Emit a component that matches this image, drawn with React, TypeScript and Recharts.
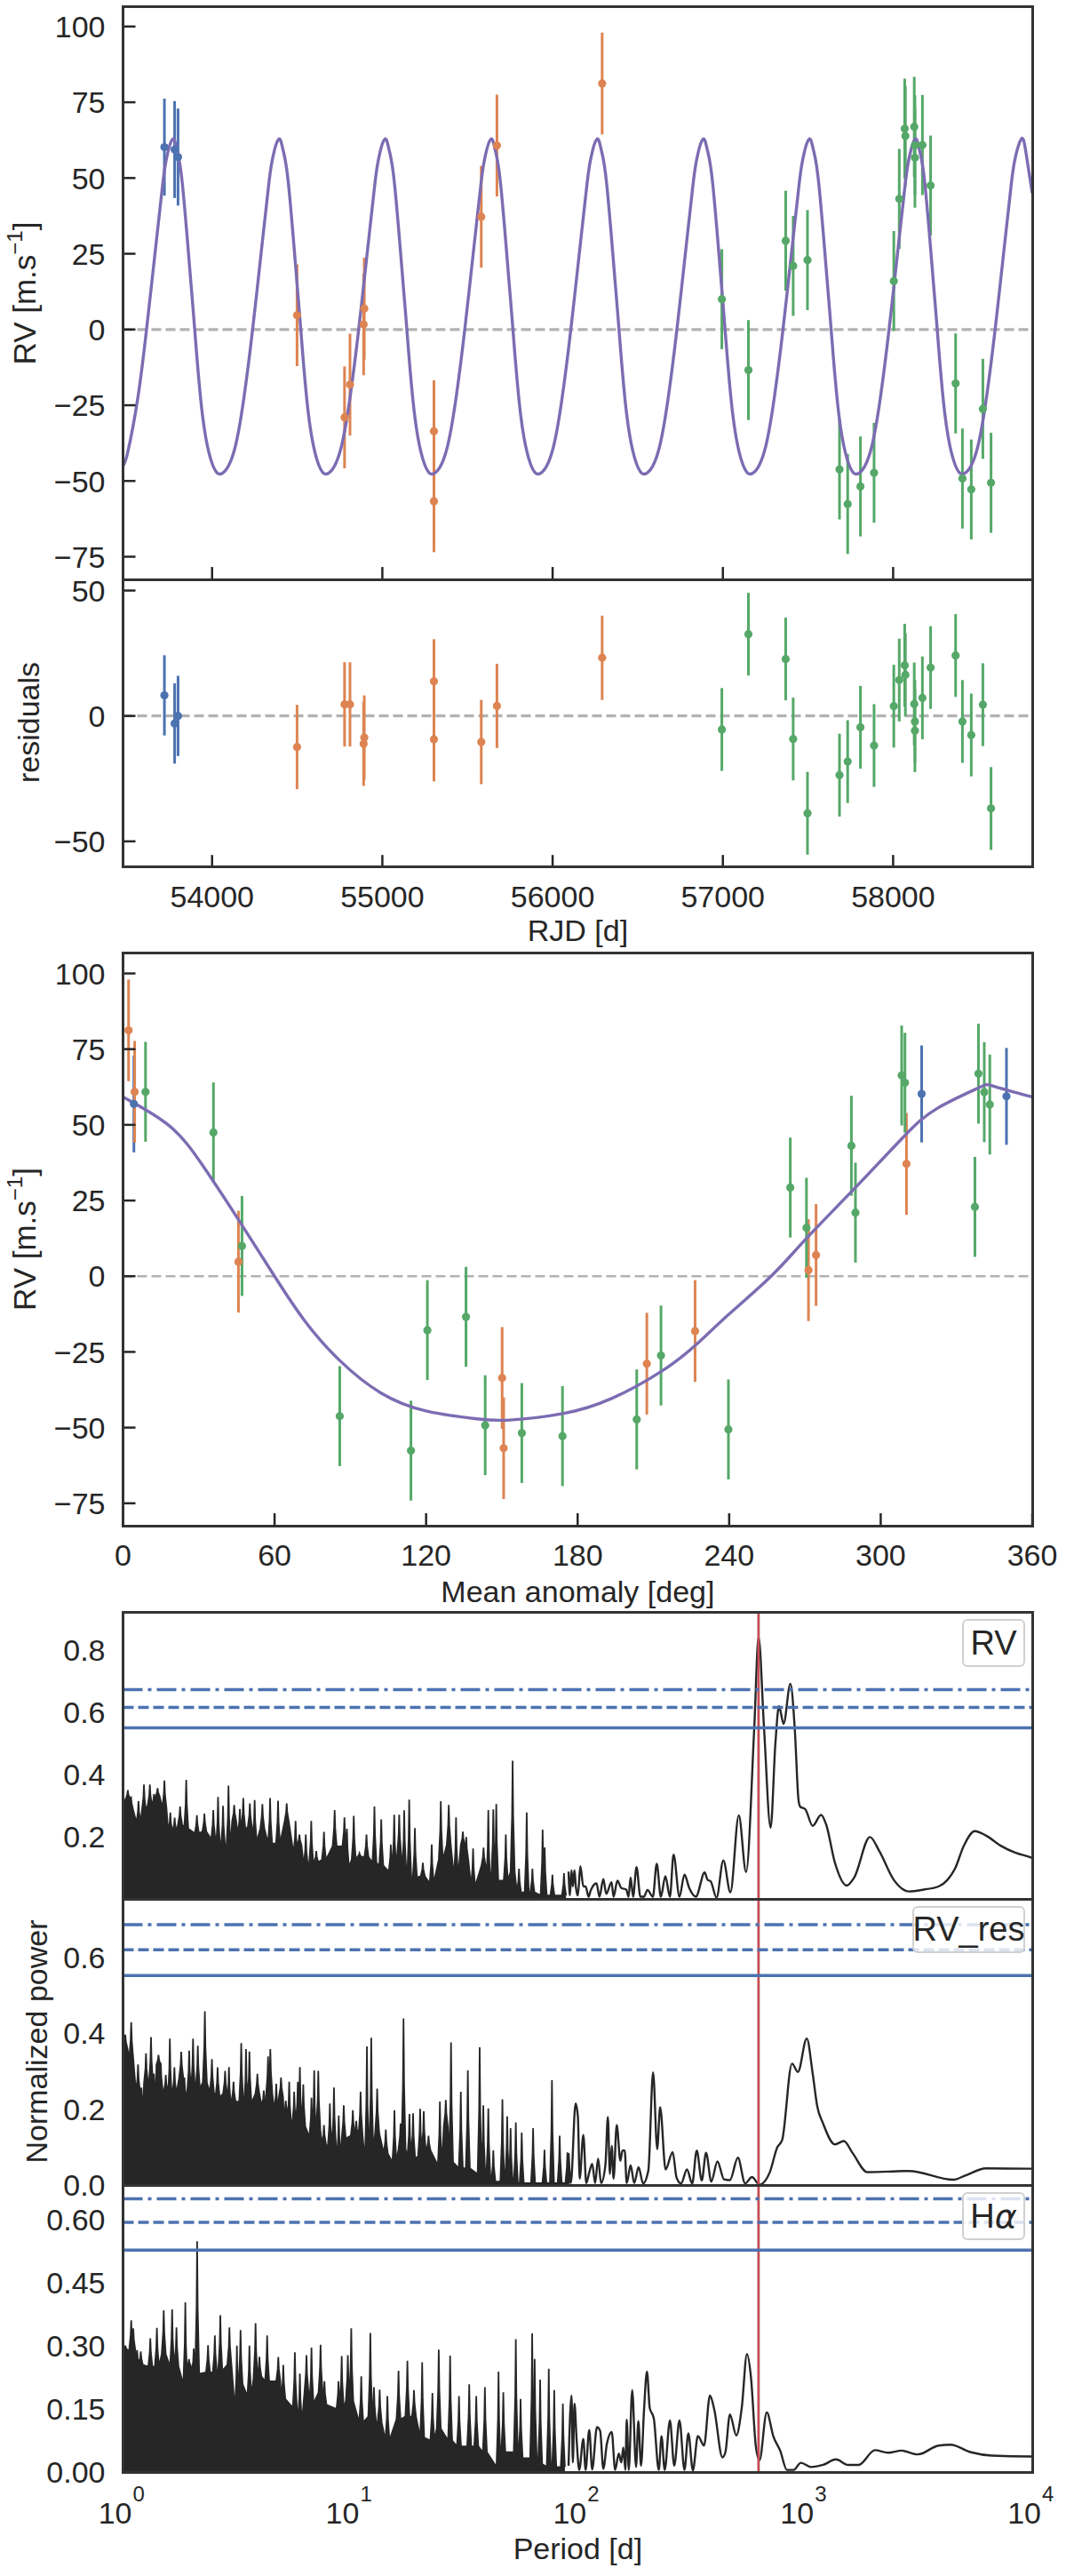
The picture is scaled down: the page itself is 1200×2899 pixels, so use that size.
import React from "react";
import {
  ComposedChart,
  Line,
  Area,
  Scatter,
  ErrorBar,
  XAxis,
  YAxis,
  ReferenceLine,
} from "recharts";

// radial velocities against time, per instrument
const blueT = [53720, 53780, 53800];
const blueRv = [60.2, 59.4, 56.9];
const blueRes = [8.2, -3, 0];
const blueErr = 16;

const orangeT = [54499, 54778, 54810, 54890, 54894, 55303, 55303, 55581, 55673, 56291];
const orangeRv = [4.7, -29, -18.2, 1.7, 6.9, -33.6, -56.7, 37.2, 60.7, 81.2];
const orangeRes = [-12.4, 4.6, 4.6, -11.1, -8.6, 13.8, -9.3, -10.4, 4, 23.2];
const orangeErr = 16.8;

const greenT = [
  56994, 57150, 57369, 57413, 57497, 57685, 57733, 57808, 57888, 58004, 58036, 58068, 58072, 58124,
  58128, 58128, 58172, 58220, 58367, 58407, 58459, 58527, 58575,
];
const greenRv = [
  10, -13.4, 29.3, 21, 22.9, -46.2, -57.6, -51.8, -47.3, 16, 43.1, 66.3, 63.9, 66.9, 56.7, 60.8,
  60.9, 47.5, -17.8, -49.2, -52.8, -26.2, -50.6,
];
const greenRes = [
  -5.4, 32.6, 22.7, -9.2, -38.8, -23.6, -18.2, -4.5, -11.8, 3.9, 14.3, 20.2, 16.4, 4.8, -2.2, -5.9,
  7.2, 19.3, 24.1, -2.2, -7.6, 4.5, -36.9,
];
const greenErr = 16.5;

// keplerian model
const orbitT = [
  53477, 53505, 53563, 53615, 53673, 53706, 53729,
  53768, 53794, 53826, 53875, 53898, 53943, 54002, 54059, 54128, 54186, 54238, 54296, 54329, 54352,
  54391, 54417, 54449, 54498, 54521, 54566, 54625, 54682, 54751, 54809, 54861, 54919, 54952, 54975,
  55014, 55040, 55072, 55121, 55144, 55189, 55248, 55305, 55374, 55432, 55484, 55542, 55575, 55598,
  55637, 55663, 55695, 55744, 55767, 55812, 55871, 55928, 55997, 56055, 56107, 56165, 56198, 56221,
  56260, 56286, 56318, 56367, 56390, 56435, 56494, 56551, 56620, 56678, 56730, 56788, 56821, 56844,
  56883, 56909, 56941, 56990, 57013, 57058, 57117, 57174, 57243, 57301, 57353, 57411, 57444, 57467,
  57506, 57532, 57564, 57613, 57636, 57681, 57740, 57797, 57866, 57924, 57976, 58034, 58067, 58090,
  58129, 58155, 58187, 58236, 58259, 58304, 58363, 58420, 58489, 58547, 58599, 58657, 58690, 58713,
  58752, 58778, 58817,
];
const orbitRv = [
  -45, -40.4, -22.9, 0, 29.3, 46, 55.5,
  62.8, 59.2, 47.8, 15.8, 0, -28, -44.5, -47.5, -40.4, -22.9, 0, 29.3, 46, 55.5,
  62.8, 59.2, 47.8, 15.8, 0, -28, -44.5, -47.5, -40.4, -22.9, 0, 29.3, 46, 55.5,
  62.8, 59.2, 47.8, 15.8, 0, -28, -44.5, -47.5, -40.4, -22.9, 0, 29.3, 46, 55.5,
  62.8, 59.2, 47.8, 15.8, 0, -28, -44.5, -47.5, -40.4, -22.9, 0, 29.3, 46, 55.5,
  62.8, 59.2, 47.8, 15.8, 0, -28, -44.5, -47.5, -40.4, -22.9, 0, 29.3, 46, 55.5,
  62.8, 59.2, 47.8, 15.8, 0, -28, -44.5, -47.5, -40.4, -22.9, 0, 29.3, 46, 55.5,
  62.8, 59.2, 47.8, 15.8, 0, -28, -44.5, -47.5, -40.4, -22.9, 0, 29.3, 46, 55.5,
  62.8, 59.2, 47.8, 15.8, 0, -28, -44.5, -47.5, -40.4, -22.9, 0, 29.3, 46, 55.5,
  62.8, 59.2, 45,
];

// phase folded panel
const blueDeg = [316.2, 349.8, 4.3];
const orangeDeg = [45.7, 207.4, 226.5, 274.4, 271.4, 150.1, 150.7, 310.2, 4.6, 2.2];
const orangeFoldRv = [4.8, -28.9, -18.1, 7, 2, -33.6, -56.8, 37.1, 60.9, 81.2];
const greenDeg = [
  47.1, 135.8, 264.2, 290, 337.3, 85.8, 114, 157.9, 203.4, 270.6, 288.4, 308.3, 309.6, 338.7, 343.2,
  341, 8.9, 35.8, 120.5, 143.4, 174, 213, 239.7,
];
const foldDeg = [
  0, 18.6, 32, 47, 60, 72, 86, 102, 120, 140, 153, 174, 193.4, 213, 226.5, 239.7, 256.6, 270.6, 290,
  309, 322.5, 338.7, 344.6, 360,
];
const foldRv = [
  59.2, 49.5, 36, 17, 0, -14.8, -28, -38.5, -44.5, -47.1, -47.5, -45.4, -40.4, -31.5, -22.9,
  -12.7, 0, 12.5, 29.3, 46, 55.5, 62.2, 62.8, 59.2,
];

// periodograms: narrow peaks of the dense part, as log10(period), top and floor of each
const rvSpikeLogP = [
  0.003, 0.021, 0.035, 0.068, 0.092, 0.118, 0.136, 0.152, 0.182, 0.208, 0.227, 0.251, 0.278, 0.325,
  0.358, 0.397, 0.418, 0.44, 0.464, 0.489, 0.514, 0.529, 0.558, 0.579, 0.613, 0.647, 0.682, 0.72,
  0.759, 0.776, 0.804, 0.828, 0.85, 0.884, 0.931, 0.974, 0.985, 1.015, 1.04, 1.071, 1.106, 1.136,
  1.178, 1.193, 1.215, 1.237, 1.259, 1.284, 1.319, 1.358, 1.398, 1.433, 1.465, 1.495, 1.51, 1.54,
  1.586, 1.607, 1.629, 1.642, 1.684, 1.714, 1.742, 1.776, 1.801, 1.846, 1.855, 1.889, 1.94,
];
const rvSpikeTop = [
  0.321, 0.35, 0.33, 0.314, 0.368, 0.368, 0.337, 0.356, 0.381, 0.278, 0.261, 0.297, 0.383, 0.269,
  0.274, 0.286, 0.328, 0.299, 0.364, 0.302, 0.289, 0.324, 0.307, 0.318, 0.305, 0.324, 0.316, 0.307,
  0.251, 0.207, 0.207, 0.251, 0.154, 0.216, 0.286, 0.262, 0.226, 0.267, 0.147, 0.207, 0.297, 0.256,
  0.175, 0.271, 0.271, 0.285, 0.319, 0.228, 0.116, 0.175, 0.314, 0.302, 0.262, 0.216, 0.199, 0.162,
  0.165, 0.286, 0.288, 0.305, 0.207, 0.444, 0.097, 0.278, 0.097, 0.223, 0.166, 0.078, 0.083,
];
const rvSpikeBase = [
  0.316, 0.321, 0.288, 0.245, 0.283, 0.302, 0.297, 0.33, 0.293, 0.216, 0.216, 0.24, 0.226, 0.211,
  0.216, 0.192, 0.164, 0.169, 0.164, 0.25, 0.207, 0.226, 0.231, 0.183, 0.226, 0.178, 0.178, 0.25,
  0.145, 0.173, 0.107, 0.116, 0.118, 0.126, 0.169, 0.169, 0.102, 0.126, 0.135, 0.135, 0.116, 0.107,
  0.088, 0.097, 0.14, 0.088, 0.069, 0.069, 0.073, 0.05, 0.126, 0.173, 0.069, 0.173, 0.126, 0.04,
  0.107, 0.04, 0.069, 0.059, 0.059, 0.087, 0.021, 0.021, 0.021, 0.011, 0.011, 0.011, 0.011,
];
const rvTailLogP = [
  1.96, 1.966, 1.973, 1.979, 1.986, 1.992, 2.001, 2.012, 2.025, 2.035, 2.048, 2.057, 2.083, 2.096,
  2.113, 2.126, 2.149, 2.158, 2.175, 2.192, 2.214, 2.224, 2.233, 2.244, 2.259, 2.276, 2.292, 2.307,
  2.331, 2.348, 2.366, 2.386, 2.406, 2.422, 2.448, 2.47, 2.491, 2.52, 2.559, 2.572, 2.585, 2.611,
  2.641, 2.672, 2.709, 2.741, 2.777, 2.796, 2.82, 2.849, 2.87, 2.886, 2.906, 2.936, 2.955, 2.972,
  2.979, 3.002, 3.034, 3.071, 3.093, 3.132, 3.184, 3.217, 3.286, 3.327, 3.393, 3.458, 3.523, 3.588,
  3.627, 3.66, 3.699, 3.747, 3.796, 3.861, 3.927, 3.989, 4,
];
const rvTailPower = [
  0.088, 0.011, 0.092, 0.04, 0.092, 0.04, 0.011, 0.105, 0.04, 0.04, 0.007, 0.026, 0.05, 0.007,
  0.064, 0.016, 0.054, 0.007, 0.059, 0.035, 0.03, 0.007, 0.069, 0.007, 0.102, 0.007, 0.007, 0.029,
  0.007, 0.113, 0.007, 0.073, 0.007, 0.142, 0.007, 0.078, 0.035, 0.007, 0.085, 0.061, 0.057, 0.004,
  0.124, 0.021, 0.269, 0.086, 0.55, 0.842, 0.55, 0.229, 0.5, 0.62, 0.563, 0.692, 0.55, 0.316,
  0.297, 0.288, 0.235, 0.27, 0.24, 0.116, 0.043, 0.069, 0.199, 0.154, 0.059, 0.024, 0.03, 0.04,
  0.061, 0.097, 0.171, 0.218, 0.204, 0.171, 0.148, 0.135, 0.132,
];

const resSpikeLogP = [
  0.002, 0.01, 0.036, 0.066, 0.081, 0.101, 0.123, 0.136, 0.156, 0.166, 0.188, 0.206, 0.226, 0.256,
  0.27, 0.291, 0.308, 0.329, 0.36, 0.391, 0.416, 0.449, 0.466, 0.486, 0.52, 0.541, 0.556, 0.591,
  0.619, 0.638, 0.648, 0.674, 0.695, 0.716, 0.731, 0.753, 0.769, 0.778, 0.793, 0.829, 0.841, 0.859,
  0.884, 0.91, 0.928, 0.949, 0.971, 1.011, 1.026, 1.045, 1.073, 1.092, 1.118, 1.156, 1.194, 1.221,
  1.234, 1.26, 1.276, 1.307, 1.323, 1.344, 1.394, 1.42, 1.443, 1.486, 1.517, 1.569, 1.585, 1.607,
  1.629, 1.669, 1.69, 1.705, 1.728, 1.754, 1.804, 1.854, 1.887, 1.921, 1.955,
];
const resSpikeTop = [
  0.4, 0.396, 0.429, 0.318, 0.257, 0.347, 0.39, 0.294, 0.343, 0.322, 0.29, 0.386, 0.31, 0.351,
  0.283, 0.354, 0.386, 0.367, 0.458, 0.332, 0.31, 0.301, 0.311, 0.272, 0.374, 0.358, 0.352, 0.293,
  0.249, 0.339, 0.358, 0.267, 0.283, 0.222, 0.272, 0.246, 0.272, 0.311, 0.265, 0.23, 0.302, 0.301,
  0.158, 0.215, 0.257, 0.183, 0.21, 0.197, 0.169, 0.246, 0.365, 0.388, 0.254, 0.146, 0.197, 0.162,
  0.439, 0.187, 0.189, 0.201, 0.194, 0.13, 0.22, 0.224, 0.376, 0.246, 0.302, 0.363, 0.21, 0.202,
  0.091, 0.226, 0.181, 0.15, 0.165, 0.138, 0.15, 0.093, 0.276, 0.13, 0.086,
];
const resSpikeBase = [
  0.36, 0.361, 0.333, 0.244, 0.212, 0.267, 0.267, 0.25, 0.317, 0.246, 0.244, 0.224, 0.239, 0.283,
  0.224, 0.244, 0.247, 0.255, 0.27, 0.244, 0.232, 0.24, 0.201, 0.22, 0.22, 0.197, 0.216, 0.24,
  0.207, 0.235, 0.24, 0.197, 0.232, 0.188, 0.158, 0.158, 0.161, 0.158, 0.154, 0.127, 0.119, 0.146,
  0.107, 0.1, 0.1, 0.068, 0.123, 0.13, 0.13, 0.13, 0.064, 0.091, 0.137, 0.083, 0.06, 0.095,
  0.095, 0.072, 0.072, 0.075, 0.091, 0.091, 0.052, 0.154, 0.06, 0.044, 0.044, 0.029, 0.021, 0.021,
  0.009, 0.009, 0.009, 0.005, 0.005, 0.005, 0.005, 0.005, 0.005, 0.005, 0.005,
];
const resTailLogP = [
  1.96, 1.97, 1.991, 2.001, 2.009, 2.025, 2.038, 2.051, 2.064, 2.077, 2.09, 2.103, 2.122, 2.133,
  2.142, 2.15, 2.158, 2.172, 2.188, 2.197, 2.207, 2.216, 2.233, 2.249, 2.268, 2.288, 2.311, 2.332,
  2.35, 2.363, 2.387, 2.418, 2.435, 2.455, 2.481, 2.504, 2.524, 2.546, 2.565, 2.588, 2.615, 2.644,
  2.67, 2.705, 2.737, 2.767, 2.8, 2.845, 2.878, 2.9, 2.943, 2.969, 3.008, 3.034, 3.054, 3.08,
  3.132, 3.171, 3.21, 3.275, 3.458, 3.653, 3.705, 3.796, 3.989, 4,
];
const resTailPower = [
  0.084, 0.005, 0.215, 0.181, 0.017, 0.132, 0.005, 0.033, 0.056, 0.005, 0.07, 0.005, 0.052, 0.179,
  0.029, 0.103, 0.017, 0.158, 0.064, 0.091, 0.091, 0.005, 0.052, 0.005, 0.047, 0.004, 0.038, 0.297,
  0.095, 0.205, 0.041, 0.087, 0.02, 0.004, 0.041, 0.004, 0.091, 0.012, 0.085, 0.009, 0.062, 0.015,
  0.013, 0.072, 0.004, 0.021, 0.001, 0.033, 0.099, 0.119, 0.32, 0.298, 0.386, 0.294, 0.208, 0.162,
  0.107, 0.116, 0.084, 0.034, 0.037, 0.014, 0.025, 0.044, 0.043, 0.043,
];

const haSpikeLogP = [
  0.01, 0.036, 0.045, 0.062, 0.078, 0.12, 0.149, 0.179, 0.216, 0.235, 0.274, 0.29, 0.311, 0.326,
  0.374, 0.404, 0.428, 0.468, 0.501, 0.517, 0.556, 0.583, 0.6, 0.634, 0.683, 0.705, 0.756, 0.778,
  0.807, 0.829, 0.869, 0.886, 0.948, 0.962, 0.989, 1.004, 1.048, 1.088, 1.104, 1.129, 1.163, 1.212,
  1.251, 1.28, 1.316, 1.361, 1.389, 1.439, 1.478, 1.523, 1.554, 1.592, 1.652, 1.673, 1.728, 1.749,
  1.8, 1.811, 1.835, 1.873, 1.897, 1.935,
];
const haSpikeTop = [
  0.301, 0.361, 0.342, 0.29, 0.287, 0.318, 0.343, 0.385, 0.387, 0.344, 0.404, 0.269, 0.294, 0.549,
  0.302, 0.325, 0.373, 0.344, 0.301, 0.338, 0.301, 0.354, 0.274, 0.325, 0.274, 0.255, 0.285, 0.234,
  0.278, 0.296, 0.303, 0.216, 0.216, 0.276, 0.278, 0.342, 0.228, 0.331, 0.202, 0.196, 0.181, 0.241,
  0.265, 0.195, 0.261, 0.188, 0.291, 0.277, 0.181, 0.209, 0.181, 0.202, 0.239, 0.19, 0.316, 0.174,
  0.33, 0.269, 0.22, 0.246, 0.195, 0.163,
];
const haSpikeBase = [
  0.29, 0.29, 0.29, 0.255, 0.255, 0.251, 0.251, 0.28, 0.251, 0.251, 0.209, 0.251, 0.234, 0.234,
  0.237, 0.237, 0.241, 0.255, 0.149, 0.209, 0.18, 0.223, 0.227, 0.216, 0.216, 0.174, 0.153, 0.118,
  0.189, 0.163, 0.189, 0.16, 0.15, 0.153, 0.168, 0.168, 0.118, 0.132, 0.118, 0.118, 0.075, 0.125,
  0.132, 0.132, 0.082, 0.075, 0.103, 0.075, 0.061, 0.061, 0.061, 0.047, 0.012, 0.047, 0.047, 0.033,
  0.033, 0.033, 0.019, 0.012, 0.012, 0.012,
];
const haTailLogP = [
  1.96, 1.973, 1.979, 1.986, 1.996, 2.007, 2.025, 2.035, 2.051, 2.064, 2.085, 2.099, 2.113, 2.129,
  2.15, 2.165, 2.181, 2.192, 2.201, 2.21, 2.216, 2.225, 2.24, 2.257, 2.267, 2.279, 2.292, 2.305,
  2.317, 2.335, 2.357, 2.369, 2.383, 2.406, 2.425, 2.448, 2.47, 2.487, 2.507, 2.529, 2.556, 2.582,
  2.601, 2.637, 2.65, 2.67, 2.698, 2.722, 2.745, 2.763, 2.784, 2.8, 2.832, 2.861, 2.891, 2.921,
  2.95, 2.982, 3.028, 3.08, 3.136, 3.191, 3.236, 3.308, 3.366, 3.425, 3.497, 3.588, 3.64, 3.731,
  3.822, 3.989, 4,
];
const haTailPower = [
  0.015, 0.182, 0.023, 0.163, 0.072, 0.005, 0.079, 0.005, 0.1, 0.006, 0.107, 0.098, 0.008, 0.068,
  0.095, 0.005, 0.044, 0.023, 0.058, 0.005, 0.125, 0.005, 0.195, 0.012, 0.121, 0.015, 0.147, 0.239,
  0.153, 0.128, 0.005, 0.085, 0.005, 0.123, 0.015, 0.123, 0.005, 0.092, 0.004, 0.086, 0.063, 0.182,
  0.149, 0.035, 0.047, 0.137, 0.087, 0.153, 0.281, 0.223, 0.061, 0.028, 0.142, 0.085, 0.051, 0.005,
  0.005, 0.022, 0.012, 0.017, 0.03, 0.017, 0.017, 0.052, 0.046, 0.051, 0.042, 0.063, 0.065, 0.047,
  0.039, 0.037, 0.037,
];

const rvLevels = [0.55, 0.616, 0.673];
const resLevels = [0.552, 0.62, 0.686];
const haLevels = [0.528, 0.594, 0.65];
const planetPeriod = 625;

const timeTicks = [54000, 55000, 56000, 57000, 58000];
const rvTicks = [-75, -50, -25, 0, 25, 50, 75, 100];
const resTicks = [-50, 0, 50];
const degTicks = [0, 60, 120, 180, 240, 300, 360];
const periodTicks = [1, 10, 100, 1000, 10000];

const INK = "#262626";
const BLUE = "#4c72b0";
const ORANGE = "#dd8452";
const GREEN = "#55a868";
const PURPLE = "#7c6cb2";
const RED = "#c44e52";
const GREY = "#b2b2b2";
const FONT = "'Liberation Sans', Arial, sans-serif";

const PLOT_LEFT = 138.5;
const PLOT_RIGHT = 1162;
const PAD_TOP = 8;
const PAD_BOTTOM = 70;

const points = (xs: number[], ys: number[], err: number) =>
  xs.map((x, i) => ({ x, y: ys[i], err }));
const curve = (xs: number[], ys: number[]) => xs.map((x, i) => ({ x, y: ys[i] }));

// the peaks taper: floor, shoulder halfway up, top, shoulder, floor
const periodogram = (
  spikeLogP: number[],
  spikeTop: number[],
  spikeBase: number[],
  tailLogP: number[],
  tailPower: number[]
) => {
  const rows: any[] = [{ x: 1, spike: spikeBase[0] }];
  spikeLogP.forEach((lp, i) => {
    const shoulder = (spikeBase[i] + spikeTop[i]) / 2;
    rows.push({ x: 10 ** Math.max(lp - 0.009, 0), spike: spikeBase[i] });
    rows.push({ x: 10 ** Math.max(lp - 0.0025, 0), spike: shoulder });
    rows.push({ x: 10 ** lp, spike: spikeTop[i] });
    rows.push({ x: 10 ** (lp + 0.0025), spike: shoulder });
    rows.push({ x: 10 ** (lp + 0.009), spike: spikeBase[i] });
  });
  tailLogP.forEach((lp, i) => rows.push({ x: 10 ** lp, tail: tailPower[i] }));
  return rows;
};

const dot = (color: string) => (p: any) => <circle cx={p.cx} cy={p.cy} r={4.6} fill={color} />;

const instrument = (data: any[], color: string) => (
  <Scatter data={data} dataKey="y" shape={dot(color)} isAnimationActive={false}>
    <ErrorBar dataKey="err" direction="y" width={0} stroke={color} strokeWidth={3} isAnimationActive={false} />
  </Scatter>
);

const zeroLine = <ReferenceLine y={0} stroke={GREY} strokeWidth={3.2} strokeDasharray="11 5" />;

function yTick(digits: number, showLine: boolean) {
  return (p: any) => {
    const v = p.payload.value;
    const label = v.toFixed(digits).replace("-", "\u2212");
    return (
      <g>
        {showLine && <line x1={p.x} x2={p.x + 14} y1={p.y} y2={p.y} stroke={INK} strokeWidth={2.5} />}
        <text x={p.x - 20} y={p.y} dy="0.36em" textAnchor="end" fontFamily={FONT} fontSize={34} fill={INK}>
          {label}
        </text>
      </g>
    );
  };
}

function xTick(showText: boolean, showLine: boolean) {
  return (p: any) => (
    <g>
      {showLine && <line x1={p.x} x2={p.x} y1={p.y} y2={p.y - 14} stroke={INK} strokeWidth={2.5} />}
      {showText && (
        <text x={p.x} y={p.y + 45} textAnchor="middle" fontFamily={FONT} fontSize={34} fill={INK}>
          {p.payload.value}
        </text>
      )}
    </g>
  );
}

function powerTick(p: any) {
  const exp = Math.round(Math.log10(p.payload.value));
  return (
    <g fontFamily={FONT} fill={INK}>
      <text x={p.x + 10} y={p.y + 58} textAnchor="end" fontSize={34}>
        10
      </text>
      <text x={p.x + 11} y={p.y + 33} fontSize={24}>
        {exp}
      </text>
    </g>
  );
}

type PanelProps = {
  y0: number;
  y1: number;
  yDomain: number[];
  yTicks: number[];
  digits: number;
  tickLines: boolean;
  xDomain: number[];
  xTicks: number[];
  xScale?: any;
  xTickFn: any;
  data: any[];
  children: React.ReactNode;
};

function Panel({ y0, y1, yDomain, yTicks, digits, tickLines, xDomain, xTicks, xScale, xTickFn, data, children }: PanelProps) {
  return (
    <>
      <div style={{ position: "absolute", left: 0, top: y0 - PAD_TOP }}>
        <ComposedChart
          width={1200}
          height={y1 - y0 + PAD_TOP + PAD_BOTTOM}
          data={data}
          margin={{ left: 0, right: 1200 - PLOT_RIGHT, top: PAD_TOP, bottom: 0 }}
        >
          <XAxis
            dataKey="x"
            type="number"
            scale={xScale || "linear"}
            domain={xDomain}
            ticks={xTicks}
            interval={0}
            allowDataOverflow
            axisLine={false}
            tickLine={false}
            tickSize={0}
            tickMargin={0}
            height={PAD_BOTTOM}
            tick={xTickFn}
          />
          <YAxis
            type="number"
            domain={yDomain}
            ticks={yTicks}
            interval={0}
            allowDataOverflow
            axisLine={false}
            tickLine={false}
            tickSize={0}
            tickMargin={0}
            width={PLOT_LEFT}
            tick={yTick(digits, tickLines)}
          />
          {children}
        </ComposedChart>
      </div>
      <div
        style={{
          position: "absolute",
          boxSizing: "border-box",
          left: PLOT_LEFT - 1.5,
          top: y0 - 1.5,
          width: PLOT_RIGHT - PLOT_LEFT + 3,
          height: y1 - y0 + 3,
          border: `3px solid #333`,
          pointerEvents: "none",
        }}
      />
    </>
  );
}

const levelLines = (levels: number[]) => [
  <ReferenceLine key="a" y={levels[0]} stroke={BLUE} strokeWidth={3.5} />,
  <ReferenceLine key="b" y={levels[1]} stroke={BLUE} strokeWidth={3.5} strokeDasharray="12 5" />,
  <ReferenceLine key="c" y={levels[2]} stroke={BLUE} strokeWidth={3.5} strokeDasharray="22 6 4 6" />,
];

const powerSeries = [
  <Area key="s" dataKey="spike" type="linear" stroke={INK} strokeWidth={1.8} fill={INK} fillOpacity={1} dot={false} activeDot={false} isAnimationActive={false} />,
  <Line key="t" dataKey="tail" type="monotoneX" stroke={INK} strokeWidth={2.4} dot={false} activeDot={false} isAnimationActive={false} />,
  <ReferenceLine key="p" x={planetPeriod} stroke={RED} strokeWidth={2.8} />,
];

function LegendBox({ x, y, w, h, children }: any) {
  return (
    <div
      style={{
        position: "absolute",
        left: x,
        top: y,
        width: w,
        height: h,
        boxSizing: "border-box",
        background: "rgba(255,255,255,0.8)",
        border: "2px solid #d0d0d0",
        borderRadius: 6,
        display: "flex",
        alignItems: "center",
        justifyContent: "center",
        fontFamily: FONT,
        fontSize: 38,
        color: INK,
      }}
    >
      {children}
    </div>
  );
}

const labelStyle = { fontFamily: FONT, fontSize: 34, fill: INK } as const;

function RvLabel({ x, y }: { x: number; y: number }) {
  return (
    <text x={x} y={y} transform={`rotate(-90 ${x} ${y})`} textAnchor="middle" dominantBaseline="middle" {...labelStyle} fontSize={35}>
      RV [m.s
      <tspan dy={-12} fontSize={24}>
        {"\u22121"}
      </tspan>
      <tspan dy={12}>]</tspan>
    </text>
  );
}

function SideLabel({ x, y, children }: any) {
  return (
    <text x={x} y={y} transform={`rotate(-90 ${x} ${y})`} textAnchor="middle" dominantBaseline="middle" {...labelStyle}>
      {children}
    </text>
  );
}

export default function App() {
  const orbit = curve(orbitT, orbitRv);
  const fold = curve(foldDeg, foldRv);
  const rvPower = periodogram(rvSpikeLogP, rvSpikeTop, rvSpikeBase, rvTailLogP, rvTailPower);
  const resPower = periodogram(resSpikeLogP, resSpikeTop, resSpikeBase, resTailLogP, resTailPower);
  const haPower = periodogram(haSpikeLogP, haSpikeTop, haSpikeBase, haTailLogP, haTailPower);

  return (
    <div style={{ position: "absolute", left: 0, top: 0, width: 1200, height: 2899, background: "#fff" }}>
      <Panel
        y0={7.4}
        y1={652.5}
        yDomain={[-82.5, 106.7]}
        yTicks={rvTicks}
        digits={0}
        tickLines
        xDomain={[53477, 58817]}
        xTicks={timeTicks}
        xTickFn={xTick(false, true)}
        data={orbit}
      >
        {zeroLine}
        {instrument(points(blueT, blueRv, blueErr), BLUE)}
        {instrument(points(orangeT, orangeRv, orangeErr), ORANGE)}
        {instrument(points(greenT, greenRv, greenErr), GREEN)}
        <Line dataKey="y" type="natural" stroke={PURPLE} strokeWidth={3.4} dot={false} activeDot={false} isAnimationActive={false} />
      </Panel>

      <Panel
        y0={652.5}
        y1={975.7}
        yDomain={[-60.4, 54.1]}
        yTicks={resTicks}
        digits={0}
        tickLines
        xDomain={[53477, 58817]}
        xTicks={timeTicks}
        xTickFn={xTick(true, true)}
        data={[]}
      >
        {zeroLine}
        {instrument(points(blueT, blueRes, blueErr), BLUE)}
        {instrument(points(orangeT, orangeRes, orangeErr), ORANGE)}
        {instrument(points(greenT, greenRes, greenErr), GREEN)}
      </Panel>

      <Panel
        y0={1072}
        y1={1717}
        yDomain={[-82.4, 106.9]}
        yTicks={rvTicks}
        digits={0}
        tickLines
        xDomain={[0, 360]}
        xTicks={degTicks}
        xTickFn={xTick(true, true)}
        data={fold}
      >
        <ReferenceLine y={0} stroke={GREY} strokeWidth={2.5} strokeDasharray="11 5" />
        {instrument(points(blueDeg, blueRv, blueErr), BLUE)}
        {instrument(points(orangeDeg, orangeFoldRv, orangeErr), ORANGE)}
        {instrument(points(greenDeg, greenRv, greenErr), GREEN)}
        <Line dataKey="y" type="natural" stroke={PURPLE} strokeWidth={3.4} dot={false} activeDot={false} isAnimationActive={false} />
      </Panel>

      <Panel
        y0={1814}
        y1={2137}
        yDomain={[0, 0.923]}
        yTicks={[0.2, 0.4, 0.6, 0.8]}
        digits={1}
        tickLines={false}
        xDomain={[1, 10000]}
        xTicks={periodTicks}
        xScale="log"
        xTickFn={xTick(false, false)}
        data={rvPower}
      >
        {powerSeries}
        {levelLines(rvLevels)}
      </Panel>

      <Panel
        y0={2137}
        y1={2459}
        yDomain={[0, 0.754]}
        yTicks={[0, 0.2, 0.4, 0.6]}
        digits={1}
        tickLines={false}
        xDomain={[1, 10000]}
        xTicks={periodTicks}
        xScale="log"
        xTickFn={xTick(false, false)}
        data={resPower}
      >
        {powerSeries}
        {levelLines(resLevels)}
      </Panel>

      <Panel
        y0={2459}
        y1={2782}
        yDomain={[0, 0.683]}
        yTicks={[0, 0.15, 0.3, 0.45, 0.6]}
        digits={2}
        tickLines={false}
        xDomain={[1, 10000]}
        xTicks={periodTicks}
        xScale="log"
        xTickFn={powerTick}
        data={haPower}
      >
        {powerSeries}
        {levelLines(haLevels)}
      </Panel>

      <LegendBox x={1083} y={1822} w={71} h={54}>
        RV
      </LegendBox>
      <LegendBox x={1027} y={2145} w={127} h={53}>
        RV_res
      </LegendBox>
      <LegendBox x={1083} y={2467} w={71} h={54}>
        H<span style={{ fontStyle: "italic", fontFamily: "'DejaVu Sans', sans-serif", fontSize: 38 }}>{"\u03b1"}</span>
      </LegendBox>

      <svg width={1200} height={2899} style={{ position: "absolute", left: 0, top: 0, pointerEvents: "none" }}>
        <RvLabel x={31} y={330} />
        <SideLabel x={35} y={813}>
          residuals
        </SideLabel>
        <RvLabel x={31} y={1394.5} />
        <SideLabel x={44} y={2297.5}>
          Normalized power
        </SideLabel>
        <text x={650.4} y={1059} textAnchor="middle" {...labelStyle}>
          RJD [d]
        </text>
        <text x={650.4} y={1803} textAnchor="middle" {...labelStyle}>
          Mean anomaly [deg]
        </text>
        <text x={650.4} y={2880} textAnchor="middle" {...labelStyle}>
          Period [d]
        </text>
      </svg>
    </div>
  );
}
